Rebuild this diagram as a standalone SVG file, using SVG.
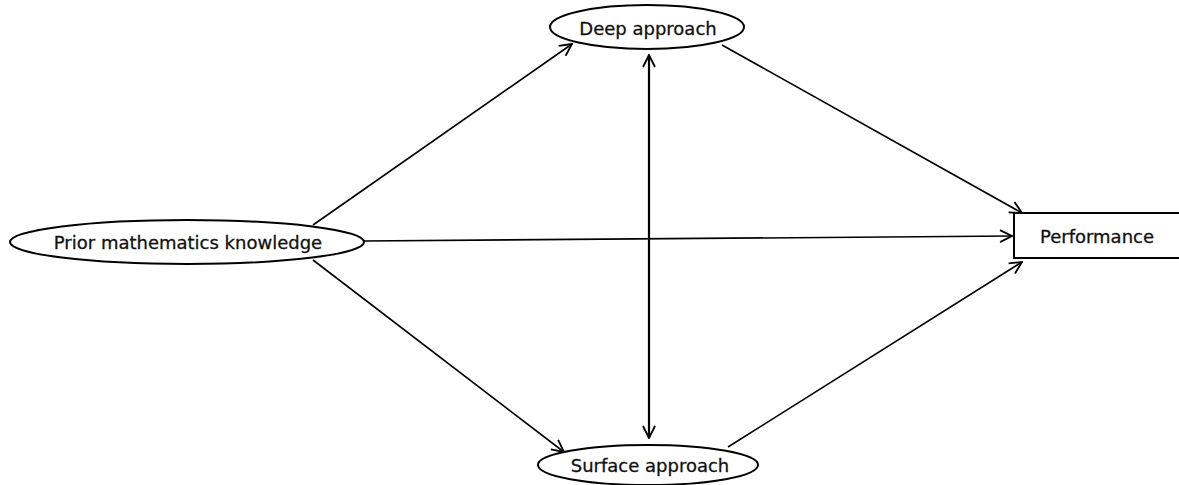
<svg xmlns="http://www.w3.org/2000/svg" width="1179" height="485" viewBox="0 0 1179 485">
<style>
.node{fill:#fff;stroke:#000;stroke-width:2}
.lbl{font-family:"DejaVu Sans",sans-serif;font-size:18px;fill:#111;stroke:#111;stroke-width:0.3;text-anchor:middle;dominant-baseline:central}
.edge{stroke:#000;stroke-width:1.6;fill:none}
.thick{stroke-width:2.2}
</style>
<defs>
<marker id="arr" viewBox="0 0 14 14" refX="13" refY="7" markerWidth="14" markerHeight="14" markerUnits="userSpaceOnUse" orient="auto-start-reverse">
<path d="M1,1 L13,7 L1,13" fill="none" stroke="#000" stroke-width="1.8"/>
</marker>
</defs>
<rect width="1179" height="485" fill="#fff"/>
<g id="connectors">
<line class="edge" x1="313" y1="225" x2="572" y2="44" marker-end="url(#arr)"/>
<line class="edge" x1="364" y1="241" x2="1012" y2="236" marker-end="url(#arr)"/>
<line class="edge" x1="313" y1="260" x2="564" y2="452" marker-end="url(#arr)"/>
<line class="edge" x1="722" y1="45" x2="1022" y2="213" marker-end="url(#arr)"/>
<line class="edge" x1="728" y1="447" x2="1022" y2="262" marker-end="url(#arr)"/>
<line class="edge thick" x1="649" y1="55" x2="649" y2="438" marker-start="url(#arr)" marker-end="url(#arr)"/>
</g>
<g id="deep">
<ellipse class="node" cx="647" cy="27" rx="97" ry="22"/>
<text class="lbl" x="648" y="28">Deep approach</text>
</g>
<g id="prior">
<ellipse class="node" cx="187" cy="242" rx="177" ry="22"/>
<text class="lbl" x="188" y="242">Prior mathematics knowledge</text>
</g>
<g id="surface">
<ellipse class="node" cx="648" cy="465" rx="110" ry="20"/>
<text class="lbl" x="650" y="465">Surface approach</text>
</g>
<g id="performance">
<rect class="node" x="1014" y="213" width="170" height="45"/>
<text class="lbl" x="1097" y="236">Performance</text>
</g>
</svg>
